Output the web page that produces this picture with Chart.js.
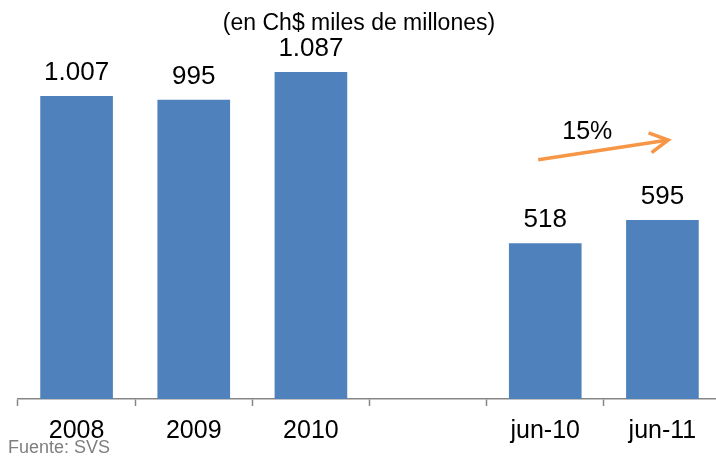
<!DOCTYPE html>
<html>
<head>
<meta charset="utf-8">
<script src="https://cdn.jsdelivr.net/npm/chart.js@4"></script>
<style>
	html, body { margin: 0; padding: 0; background: #fff; overflow: hidden; }
	#wrap { width: 721px; height: 456px; position: relative; }
</style>
</head>
<body>
<div id="wrap"><canvas id="chart"></canvas></div>
<script>
// categories and values (Ch$ miles de millones)
const categories = ["2008", "2009", "2010", "", "jun-10", "jun-11"];
const values = [1007, 995, 1087, null, 518, 595];
const valueLabels = ["1.007", "995", "1.087", "", "518", "595"];

// growth arrow between jun-10 and jun-11 (category index, value)
const arrowFrom = [3.94, 795];
const arrowTo = [5.05, 861];
const arrowText = "15%";

const titleText = "(en Ch$ miles de millones)";
const sourceText = "Fuente: SVS";

const font = "'Liberation Sans', Arial, sans-serif";

// draws the value labels, title, source and growth arrow
const extras = {
	id: "extras",
	afterDatasetsDraw(chart) {
		const ctx = chart.ctx;
		const x = chart.scales.x;
		const y = chart.scales.y;
		ctx.save();

		// value labels
		ctx.fillStyle = "#000";
		ctx.font = "26px " + font;
		ctx.textAlign = "center";
		ctx.textBaseline = "alphabetic";
		chart.getDatasetMeta(0).data.forEach((bar, i) => {
			if (values[i] == null) return;
			ctx.fillText(valueLabels[i], bar.x, bar.y - 16);
		});

		// title
		ctx.font = "23px " + font;
		ctx.fillText(titleText, 359, 30);

		// source
		ctx.fillStyle = "#7f7f7f";
		ctx.font = "18px " + font;
		ctx.textAlign = "left";
		ctx.fillText(sourceText, 8, 453);

		// arrow
		const x1 = x.getPixelForValue(arrowFrom[0]);
		const y1 = y.getPixelForValue(arrowFrom[1]);
		const x2 = x.getPixelForValue(arrowTo[0]);
		const y2 = y.getPixelForValue(arrowTo[1]);
		const ang = Math.atan2(y2 - y1, x2 - x1);
		ctx.strokeStyle = "#f79646";
		ctx.lineWidth = 3.5;
		ctx.beginPath();
		ctx.moveTo(x1, y1);
		ctx.lineTo(x2, y2);
		ctx.stroke();
		ctx.beginPath();
		ctx.moveTo(x2 + 21 * Math.cos(ang + Math.PI - 0.5), y2 + 21 * Math.sin(ang + Math.PI - 0.5));
		ctx.lineTo(x2, y2);
		ctx.lineTo(x2 + 21 * Math.cos(ang + Math.PI + 0.5), y2 + 21 * Math.sin(ang + Math.PI + 0.5));
		ctx.stroke();

		ctx.fillStyle = "#000";
		ctx.font = "25px " + font;
		ctx.textAlign = "center";
		ctx.fillText(arrowText, (x1 + x2) / 2 - 16, y1 - 21);

		ctx.restore();
	}
};

const config = {
	type: "bar",
	data: {
		labels: categories,
		datasets: [{
			data: values,
			backgroundColor: "#4f81bd",
			borderWidth: 0,
			categoryPercentage: 1,
			barPercentage: 0.62
		}]
	},
	options: {
		responsive: true,
		maintainAspectRatio: false,
		animation: false,
		layout: {
			padding: { left: 18, right: 0, top: 38, bottom: 0 }
		},
		plugins: {
			legend: { display: false },
			tooltip: { enabled: false }
		},
		scales: {
			x: {
				afterFit(scale) { scale.height = 57; },
				grid: {
					drawOnChartArea: false,
					drawTicks: true,
					tickLength: 7,
					tickWidth: 1.5,
					color: "#868686",
					offset: true
				},
				border: { color: "#868686", width: 1.5 },
				ticks: {
					color: "#000",
					font: { family: font, size: 25 },
					padding: 10,
					maxRotation: 0,
					autoSkip: false
				}
			},
			y: {
				display: false,
				min: 0,
				max: 1200
			}
		}
	},
	plugins: [extras]
};

const chart = new Chart(document.getElementById("chart"), config);
</script>
</body>
</html>
